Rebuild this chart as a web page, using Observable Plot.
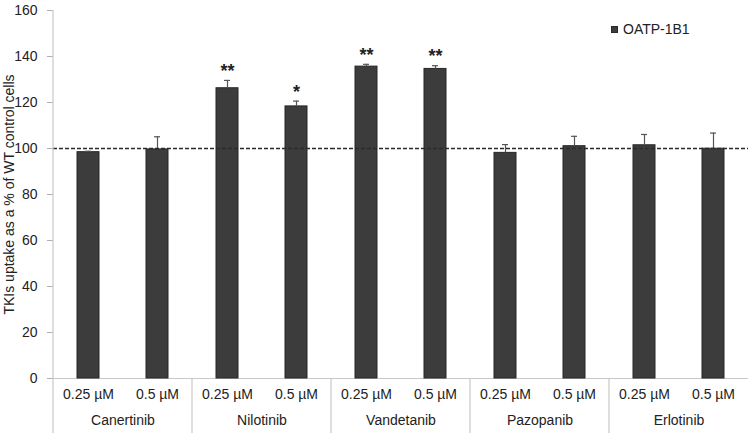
<!DOCTYPE html>
<html>
<head>
<meta charset="utf-8">
<script src="https://cdn.jsdelivr.net/npm/d3@7"></script>
<script src="https://cdn.jsdelivr.net/npm/@observablehq/plot@0.6"></script>
<style>
  html, body { margin: 0; padding: 0; background: #fff; }
  #wrap { position: relative; width: 752px; height: 433px; font-family: "Liberation Sans", Arial, sans-serif; }
  #legend { position: absolute; left: 611px; top: 21px; font-size: 14px; color: #222; display: flex; align-items: center; }
  #legend .sw { width: 7px; height: 7px; background: #3c3c3c; border: 1px solid #2a2a2a; margin-right: 5px; box-sizing: border-box; }
</style>
</head>
<body>
<div id="wrap">
  <div id="chart"></div>
  <div id="legend"><span class="sw"></span><span>OATP-1B1</span></div>
</div>
<script>
const drugs = ["Canertinib", "Nilotinib", "Vandetanib", "Pazopanib", "Erlotinib"];
const concs = ["0.25 µM", "0.5 µM"];
const values = [98.4, 99.6, 126.2, 118.3, 135.6, 134.6, 98.1, 101.0, 101.4, 99.9];
const errors = [0.4, 5.5, 3.4, 2.3, 1.0, 1.4, 3.6, 4.3, 4.7, 6.8];
const stars = ["", "", "**", "*", "**", "**", "", "", "", ""];
const yTicks = [0, 20, 40, 60, 80, 100, 120, 140, 160];
const reference = [100];
const seriesName = "OATP-1B1";

const data = values.map((v, i) => ({
  drug: drugs[Math.floor(i / 2)],
  conc: concs[i % 2],
  value: v,
  err: errors[i],
  top: v + errors[i],
  star: stars[i]
}));

const W = 752, H = 433;
const chart = Plot.plot({
  width: W,
  height: H,
  marginLeft: 52,
  marginRight: 4,
  marginTop: 10,
  marginBottom: 55,
  style: { fontFamily: "Liberation Sans, Arial, sans-serif", fontSize: "14px", color: "#222", background: "#fff" },
  fx: { domain: drugs, padding: 0 },
  x: { domain: concs, paddingInner: 0.68, paddingOuter: 0.34 },
  y: { domain: [0, 160] },
  marks: [
    Plot.ruleY([0], { stroke: "#c8c8c8", strokeWidth: 1.2 }),
    Plot.barY(data, { fx: "drug", x: "conc", y: "value", fill: "#3c3c3c", stroke: "#262626", strokeWidth: 1 }),
    Plot.ruleX(data, { fx: "drug", x: "conc", y1: "value", y2: "top", stroke: "#555", strokeWidth: 1.2 }),
    Plot.tickY(data, { fx: "drug", x: "conc", y: "top", stroke: "#555", strokeWidth: 1.2, insetLeft: 8, insetRight: 8 }),
    Plot.text(data, { fx: "drug", x: "conc", y: "top", text: "star", dy: -9, fontSize: 18, fontWeight: "bold", fill: "#222" }),
    Plot.ruleY(reference, { stroke: "#2a2a2a", strokeWidth: 1.7, strokeDasharray: "4,2" }),
    Plot.axisY({ ticks: yTicks, tickSize: 6, tickPadding: 10, stroke: "#b0b0b0", fill: "#222", fontSize: 14,
      label: "TKIs uptake as a % of WT control cells", labelAnchor: "center", labelOffset: 49, labelArrow: "none" }),
    Plot.axisX({ tickSize: 0, tickPadding: 11, fill: "#222", fontSize: 14, label: null }),
    Plot.axisFx({ anchor: "bottom", tickSize: 0, tickPadding: 37, fill: "#222", fontSize: 14, label: null })
  ]
});

document.getElementById("chart").appendChild(chart);

// axis line and group separators drawn from the plot's own scales
const fxs = chart.scale("fx");
const ys = chart.scale("y");
const svg = d3.select(chart);
const g = svg.append("g").attr("stroke", "#c8c8c8").attr("stroke-width", 1.2);
const x0 = fxs.apply(drugs[0]);
g.append("line").attr("x1", x0).attr("x2", x0).attr("y1", ys.apply(160)).attr("y2", H);
drugs.slice(1).forEach(d => {
  const x = fxs.apply(d);
  g.append("line").attr("x1", x).attr("x2", x).attr("y1", ys.apply(0)).attr("y2", H);
});
</script>
</body>
</html>
